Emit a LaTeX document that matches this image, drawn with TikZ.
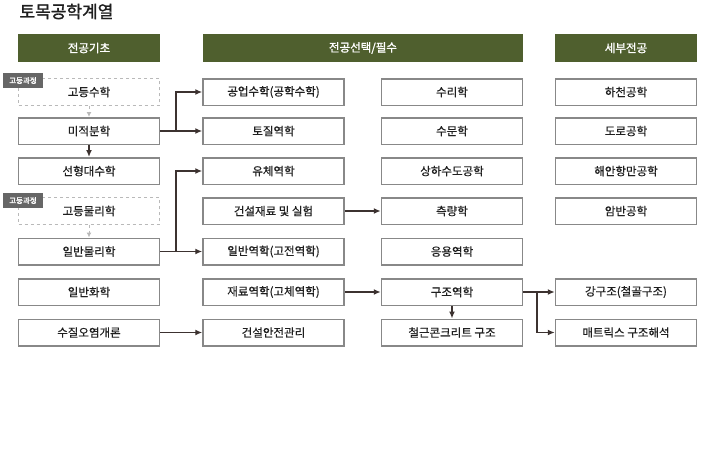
\documentclass[tikz,border=0pt]{standalone}
\usepackage{fontspec}
\setmainfont{Noto Sans CJK KR}
\newfontfamily\heavyfont[FakeBold=1.6]{Noto Sans CJK KR}
\newfontfamily\midfont[FakeBold=0.5]{Noto Sans CJK KR}
\usepackage{tikz}
\usetikzlibrary{positioning,arrows.meta}
\definecolor{headgreen}{RGB}{79,95,46}
\definecolor{boxgray}{RGB}{136,136,136}
\definecolor{lineclr}{RGB}{60,50,48}
\definecolor{tagclr}{RGB}{102,102,102}
\tikzset{
  course/.style={draw=boxgray, line width=1.5pt, fill=white, minimum width=141pt, minimum height=26.5pt, inner sep=0pt, text=black!88, font=\midfont\fontsize{11.5}{12}\selectfont},
  prep/.style={course, draw=gray!55, dashed, line width=0.9pt},
  head/.style={fill=headgreen, text=white, minimum height=28pt, inner sep=0pt, font=\heavyfont\fontsize{11.5}{12}\selectfont},
  tag/.style={fill=tagclr, text=white, minimum width=40pt, minimum height=15pt, inner sep=0pt, font=\heavyfont\fontsize{7.5}{8}\selectfont},
  link/.style={draw=lineclr, line width=1.6pt, -{Latex[length=7pt,width=6pt]}},
  plink/.style={draw=gray!55, line width=1pt, dashed, -{Latex[length=5pt,width=5pt]}}
}
\begin{document}
\begin{tikzpicture}[x=1pt, y=-1pt]
  \useasboundingbox (0,0) rectangle (717,475);
  \node[anchor=west, text=black!88, font=\heavyfont\fontsize{17}{18}\selectfont] (title) at (16,11.5) {토목공학계열};
  \node[head, minimum width=142pt] (h1) at (89,48) {전공기초};
  \node[head, minimum width=320pt] (h2) at (363,48) {전공선택/필수};
  \node[head, minimum width=142pt] (h3) at (626,48) {세부전공};
  \foreach \n/\y/\t/\s in {1/92/고등수학/prep, 2/131/미적분학/course, 3/171/선형대수학/course,
    4/211/고등물리학/prep, 5/251.5/일반물리학/course, 6/292/일반화학/course, 7/332.5/수질오염개론/course}
    \node[\s] (a\n) at (89,\y) {\t};
  \foreach \n/\y/\t in {1/92/공업수학(공학수학), 2/131/토질역학, 3/171/유체역학, 4/211/건설재료 및 실험,
    5/251.5/일반역학(고전역학), 6/292/재료역학(고체역학), 7/332.5/건설안전관리}
    \node[course] (b\n) at (273.5,\y) {\t};
  \foreach \n/\y/\t in {1/92/수리학, 2/131/수문학, 3/171/상하수도공학, 4/211/측량학,
    5/251.5/응용역학, 6/292/구조역학, 7/332.5/철근콘크리트 구조}
    \node[course] (c\n) at (452,\y) {\t};
  \foreach \n/\y/\t in {1/92/하천공학, 2/131/도로공학, 3/171/해안항만공학, 4/211/암반공학,
    6/292/강구조(철골구조), 7/332.5/매트릭스 구조해석}
    \node[course] (d\n) at (626,\y) {\t};
  \node[tag] (t1) at (23,80.5) {고등과정};
  \node[tag] (t4) at (23,200.5) {고등과정};
  \draw[plink] (a1) -- (a2);
  \draw[plink] (a4) -- (a5);
  \draw[link] (a2) -- (a3);
  \draw[link] (a2) -- (b2);
  \draw[link] (a2.east) ++(16,0) |- (b1);
  \draw[link] (a5) -- (b5);
  \draw[link] (a5.east) ++(16,0) |- (b3);
  \draw[link] (a7) -- (b7);
  \draw[link] (b4) -- (c4);
  \draw[link] (b6) -- (c6);
  \draw[link] (c6) -- (c7);
  \draw[link] (c6) -- (d6);
  \draw[link] (c6.east) ++(14,0) |- (d7);
\end{tikzpicture}
\end{document}
